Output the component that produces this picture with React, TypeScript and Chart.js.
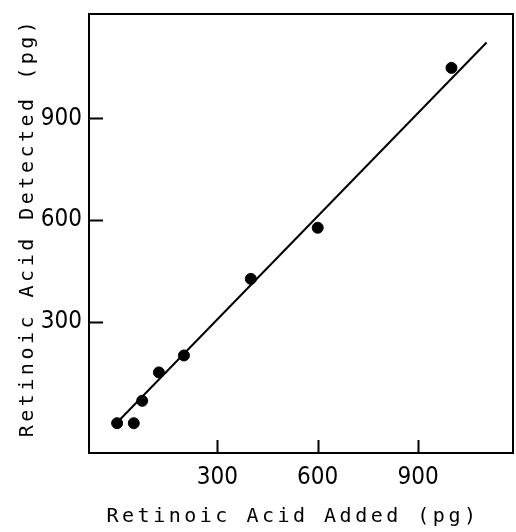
import React, { useEffect, useRef } from "react";
import { Chart, registerables } from "chart.js";

Chart.register(...registerables);

// Data
const addedPg = [0, 50, 75, 125, 200, 400, 600, 1000];
const detectedPg = [0, 0, 66, 150, 200, 426, 577, 1049];
// Regression line endpoints (as drawn in the figure)
const fitX = [8, 1105];
const fitY = [10, 1124];

const xTicks = [300, 600, 900];
const yTicks = [300, 600, 900];
const xTitle = "Retinoic Acid Added (pg)";
const yTitle = "Retinoic Acid Detected (pg)";

const W = 516;
const H = 532;

const titleShift: Record<string, [number, number]> = { x: [-8, 0], y: [0, -6] };

const framePlugin = {
  id: "frame",
  beforeDraw(chart: any) {
    Object.values(chart.scales).forEach((s: any) => {
      if (!s.__patched) {
        const orig = s.drawTitle.bind(s);
        const shift = titleShift[s.id] || [0, 0];
        s.drawTitle = function () {
          const ctx = this.ctx;
          ctx.save();
          (ctx as any).letterSpacing = "3.5px";
          ctx.translate(shift[0], shift[1]);
          orig();
          ctx.restore();
        };
        s.__patched = true;
      }
    });
  },
  afterDraw(chart: any) {
    const { ctx, chartArea } = chart;
    const { left, right, top, bottom } = chartArea;
    ctx.save();
    ctx.strokeStyle = "#000";
    ctx.lineWidth = 2;
    ctx.strokeRect(left, top, right - left, bottom - top);
    const xs = chart.scales.x;
    const ys = chart.scales.y;
    ctx.beginPath();
    xTicks.forEach((v) => {
      const px = Math.round(xs.getPixelForValue(v)) + 0.5;
      ctx.moveTo(px, bottom);
      ctx.lineTo(px, bottom - 13);
    });
    yTicks.forEach((v) => {
      const py = Math.round(ys.getPixelForValue(v)) + 0.5;
      ctx.moveTo(left, py);
      ctx.lineTo(left + 14, py);
    });
    ctx.stroke();
    ctx.restore();
  },
};

const zeroPad = (s: any) => {
  s.paddingTop = 0;
  s.paddingBottom = 0;
  s.paddingLeft = 0;
  s.paddingRight = 0;
};

export default function App() {
  const ref = useRef<HTMLCanvasElement | null>(null);
  useEffect(() => {
    if (!ref.current) return;
    const tickFont = {
      family: "'Liberation Sans Narrow', 'DejaVu Sans Condensed', 'Liberation Sans', sans-serif",
      size: 24,
    };
    const titleFont = {
      family: "'DejaVu Sans Mono', monospace",
      size: 20,
      lineHeight: 1.2,
    };
    const chart = new Chart(ref.current, {
      type: "scatter",
      data: {
        datasets: [
          {
            type: "line",
            data: fitX.map((x, i) => ({ x, y: fitY[i] })),
            borderColor: "#000",
            borderWidth: 2,
            pointRadius: 0,
            fill: false,
          } as any,
          {
            data: addedPg.map((x, i) => ({ x, y: detectedPg[i] })),
            backgroundColor: "#000",
            borderColor: "#000",
            pointRadius: 5.5,
            pointHoverRadius: 5.5,
          },
        ],
      },
      options: {
        responsive: false,
        animation: false,
        events: [],
        layout: { autoPadding: false, padding: { top: 14, right: 3, left: 0, bottom: 0 } },
        plugins: {
          legend: { display: false },
          tooltip: { enabled: false },
        },
        scales: {
          x: {
            type: "linear",
            min: -84,
            max: 1184,
            grid: { display: false, drawTicks: false },
            border: { display: false },
            afterBuildTicks: (s: any) => {
              s.ticks = xTicks.map((v) => ({ value: v }));
            },
            afterFit: (s: any) => {
              s.height = 79;
              zeroPad(s);
            },
            ticks: {
              color: "#000",
              font: tickFont,
              padding: 10,
              maxRotation: 0,
              autoSkip: false,
              callback: (v: any) => String(v),
            },
            title: {
              display: true,
              text: xTitle,
              color: "#000",
              font: titleFont,
              padding: { top: 0, bottom: 3 },
            },
          },
          y: {
            type: "linear",
            min: -88,
            max: 1208,
            grid: { display: false, drawTicks: false },
            border: { display: false },
            afterBuildTicks: (s: any) => {
              s.ticks = yTicks.map((v) => ({ value: v }));
            },
            afterFit: (s: any) => {
              s.width = 89;
              zeroPad(s);
            },
            ticks: {
              color: "#000",
              font: tickFont,
              padding: 7,
              autoSkip: false,
              callback: (v: any) => String(v),
            },
            title: {
              display: true,
              text: yTitle,
              color: "#000",
              font: titleFont,
              padding: { top: 16, bottom: 0 },
            },
          },
        },
      },
      plugins: [framePlugin],
    });
    return () => chart.destroy();
  }, []);
  return (
    <div style={{ position: "fixed", left: 0, top: 0, width: W, height: H, background: "#fff" }}>
      <canvas ref={ref} width={W} height={H} style={{ display: "block", width: W, height: H }} />
    </div>
  );
}
